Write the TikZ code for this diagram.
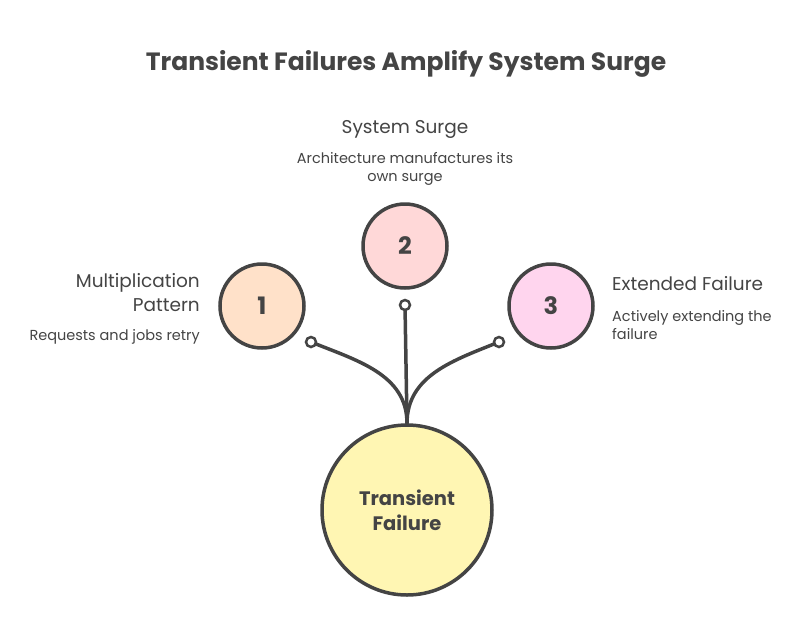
\documentclass[tikz,border=0pt]{standalone}
\usepackage{fontspec}
\setmainfont{Poppins}
\definecolor{ink}{HTML}{444444}
\definecolor{peach}{HTML}{FFE1C9}
\definecolor{rose}{HTML}{FFD8D8}
\definecolor{pinkish}{HTML}{FFD5EE}
\definecolor{lemon}{HTML}{FFF6B3}
\begin{document}
\begin{tikzpicture}
[
	x=1pt,y=-1pt,
	ball/.style={circle,draw=ink,line width=3.5pt,minimum size=84pt,inner sep=0pt,font=\fontsize{24}{24}\selectfont\bfseries,text=ink},
	port/.style={circle,draw=ink,line width=2.5pt,fill=white,minimum size=10pt,inner sep=0pt},
	link/.style={ink,line width=3.5pt,line cap=round},
	head/.style={font=\fontsize{18.5}{24}\selectfont,text=ink,inner sep=0pt},
	blurb/.style={font=\fontsize{14.5}{18.5}\selectfont,text=ink,inner sep=0pt}
]
	\useasboundingbox (0,0) rectangle (807,641);

	\node[font=\fontsize{25}{28}\selectfont\bfseries,text=ink] at (406,64) (title) {Transient Failures Amplify System Surge};

	% the three causes
	\node[ball,fill=peach] at (262,306) (one) {1};
	\node[ball,fill=rose] at (405,246) (two) {2};
	\node[ball,fill=pinkish] at (551,306) (three) {3};

	% the source
	\node[ball,fill=lemon,minimum size=170pt,font=\fontsize{19.5}{25}\selectfont\bfseries,align=center] at (407,510) (core) {Transient\\Failure};
	\coordinate (top) at (core.north);

	\draw[link] (311,342) to[out=-22,in=90] (top);
	\draw[link] (405,305) -- (top);
	\draw[link] (499,342) to[out=-158,in=90] (top);

	\node[port] at (311,342) (p1) {};
	\node[port] at (405,305) (p2) {};
	\node[port] at (499,342) (p3) {};

	% labels
	\node[head,align=right,anchor=east] at (200,293) (onehead) {Multiplication\\Pattern};
	\node[blurb,anchor=east] at (200,337) (oneblurb) {Requests and jobs retry};

	\node[head] at (405,129) (twohead) {System Surge};
	\node[blurb,align=center] at (405,169) (twoblurb) {Architecture manufactures its\\own surge};

	\node[head,anchor=west] at (612,284) (threehead) {Extended Failure};
	\node[blurb,align=left,anchor=west] at (612,325) (threeblurb) {Actively extending the\\failure};

\end{tikzpicture}
\end{document}
